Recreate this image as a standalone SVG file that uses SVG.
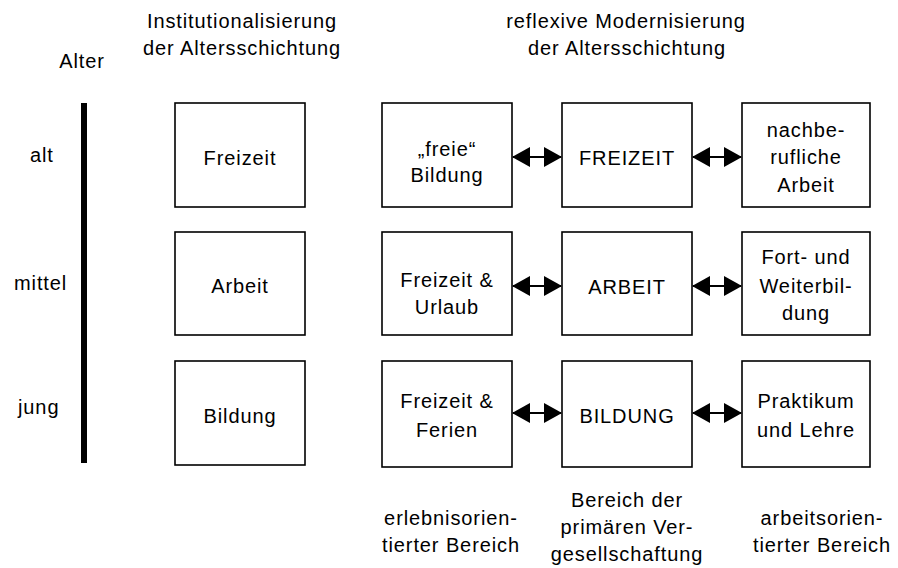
<svg xmlns="http://www.w3.org/2000/svg" width="898" height="568" viewBox="0 0 898 568">
<style>
text{font-family:"Liberation Sans",Arial,sans-serif;font-size:20px;fill:#000;letter-spacing:0.9px}
.c{text-anchor:middle}
.box{fill:#fff;stroke:#000;stroke-width:1.6}
.conn{stroke:#000;stroke-width:2;fill:none;marker-start:url(#ah);marker-end:url(#ah)}
</style>
<defs>
<marker id="ah" viewBox="0 0 18 20" refX="17" refY="10" markerWidth="18" markerHeight="20" markerUnits="userSpaceOnUse" orient="auto-start-reverse">
<path d="M0,0 L18,10 L0,20 Z" fill="#000"/>
</marker>
</defs>
<rect width="898" height="568" fill="#fff"/>

<g id="headers">
<text class="c" x="242" y="28">Institutionalisierung</text>
<text class="c" x="242" y="55">der Altersschichtung</text>
<text class="c" x="626" y="28">reflexive Modernisierung</text>
<text class="c" x="627" y="55">der Altersschichtung</text>
<text class="c" x="82" y="68">Alter</text>
</g>

<g id="age-axis">
<rect x="81" y="103" width="6" height="360" fill="#000"/>
<text x="30" y="162">alt</text>
<text x="14" y="290">mittel</text>
<text x="18" y="414">jung</text>
</g>

<g id="inst-freizeit"><rect class="box" x="175" y="103" width="130" height="104"/><text class="c" x="240" y="165">Freizeit</text></g>
<g id="inst-arbeit"><rect class="box" x="175" y="232" width="130" height="103"/><text class="c" x="240" y="293">Arbeit</text></g>
<g id="inst-bildung"><rect class="box" x="175" y="361" width="130" height="104"/><text class="c" x="240" y="423">Bildung</text></g>

<g id="freie-bildung"><rect class="box" x="382" y="103" width="130" height="104"/><text class="c" x="447" y="156">„freie“</text><text class="c" x="447" y="182">Bildung</text></g>
<g id="FREIZEIT"><rect class="box" x="562" y="103" width="130" height="104"/><text class="c" x="627" y="165">FREIZEIT</text></g>
<g id="nachberufliche-arbeit"><rect class="box" x="742" y="103" width="128" height="104"/><text class="c" x="806" y="137">nachbe-</text><text class="c" x="806" y="164">rufliche</text><text class="c" x="806" y="192">Arbeit</text></g>

<g id="freizeit-urlaub"><rect class="box" x="382" y="232" width="130" height="103"/><text class="c" x="447" y="287">Freizeit &amp;</text><text class="c" x="447" y="314">Urlaub</text></g>
<g id="ARBEIT"><rect class="box" x="562" y="232" width="130" height="103"/><text class="c" x="627" y="294">ARBEIT</text></g>
<g id="fort-weiterbildung"><rect class="box" x="742" y="232" width="128" height="103"/><text class="c" x="806" y="264">Fort- und</text><text class="c" x="806" y="293">Weiterbil-</text><text class="c" x="806" y="320">dung</text></g>

<g id="freizeit-ferien"><rect class="box" x="382" y="361" width="130" height="106"/><text class="c" x="447" y="408">Freizeit &amp;</text><text class="c" x="447" y="437">Ferien</text></g>
<g id="BILDUNG"><rect class="box" x="562" y="361" width="130" height="106"/><text class="c" x="627" y="423">BILDUNG</text></g>
<g id="praktikum-lehre"><rect class="box" x="742" y="361" width="128" height="106"/><text class="c" x="806" y="408">Praktikum</text><text class="c" x="806" y="437">und Lehre</text></g>

<g id="connectors">
<line class="conn" x1="513" y1="157" x2="561" y2="157"/>
<line class="conn" x1="693" y1="157" x2="741" y2="157"/>
<line class="conn" x1="513" y1="286" x2="561" y2="286"/>
<line class="conn" x1="693" y1="286" x2="741" y2="286"/>
<line class="conn" x1="513" y1="413" x2="561" y2="413"/>
<line class="conn" x1="693" y1="413" x2="741" y2="413"/>
</g>

<g id="bottom-labels">
<text class="c" x="451" y="525">erlebnisorien-</text>
<text class="c" x="451" y="552">tierter Bereich</text>
<text class="c" x="627" y="507">Bereich der</text>
<text class="c" x="627" y="534">primären Ver-</text>
<text class="c" x="627" y="561">gesellschaftung</text>
<text class="c" x="822" y="525">arbeitsorien-</text>
<text class="c" x="822" y="552">tierter Bereich</text>
</g>
</svg>
